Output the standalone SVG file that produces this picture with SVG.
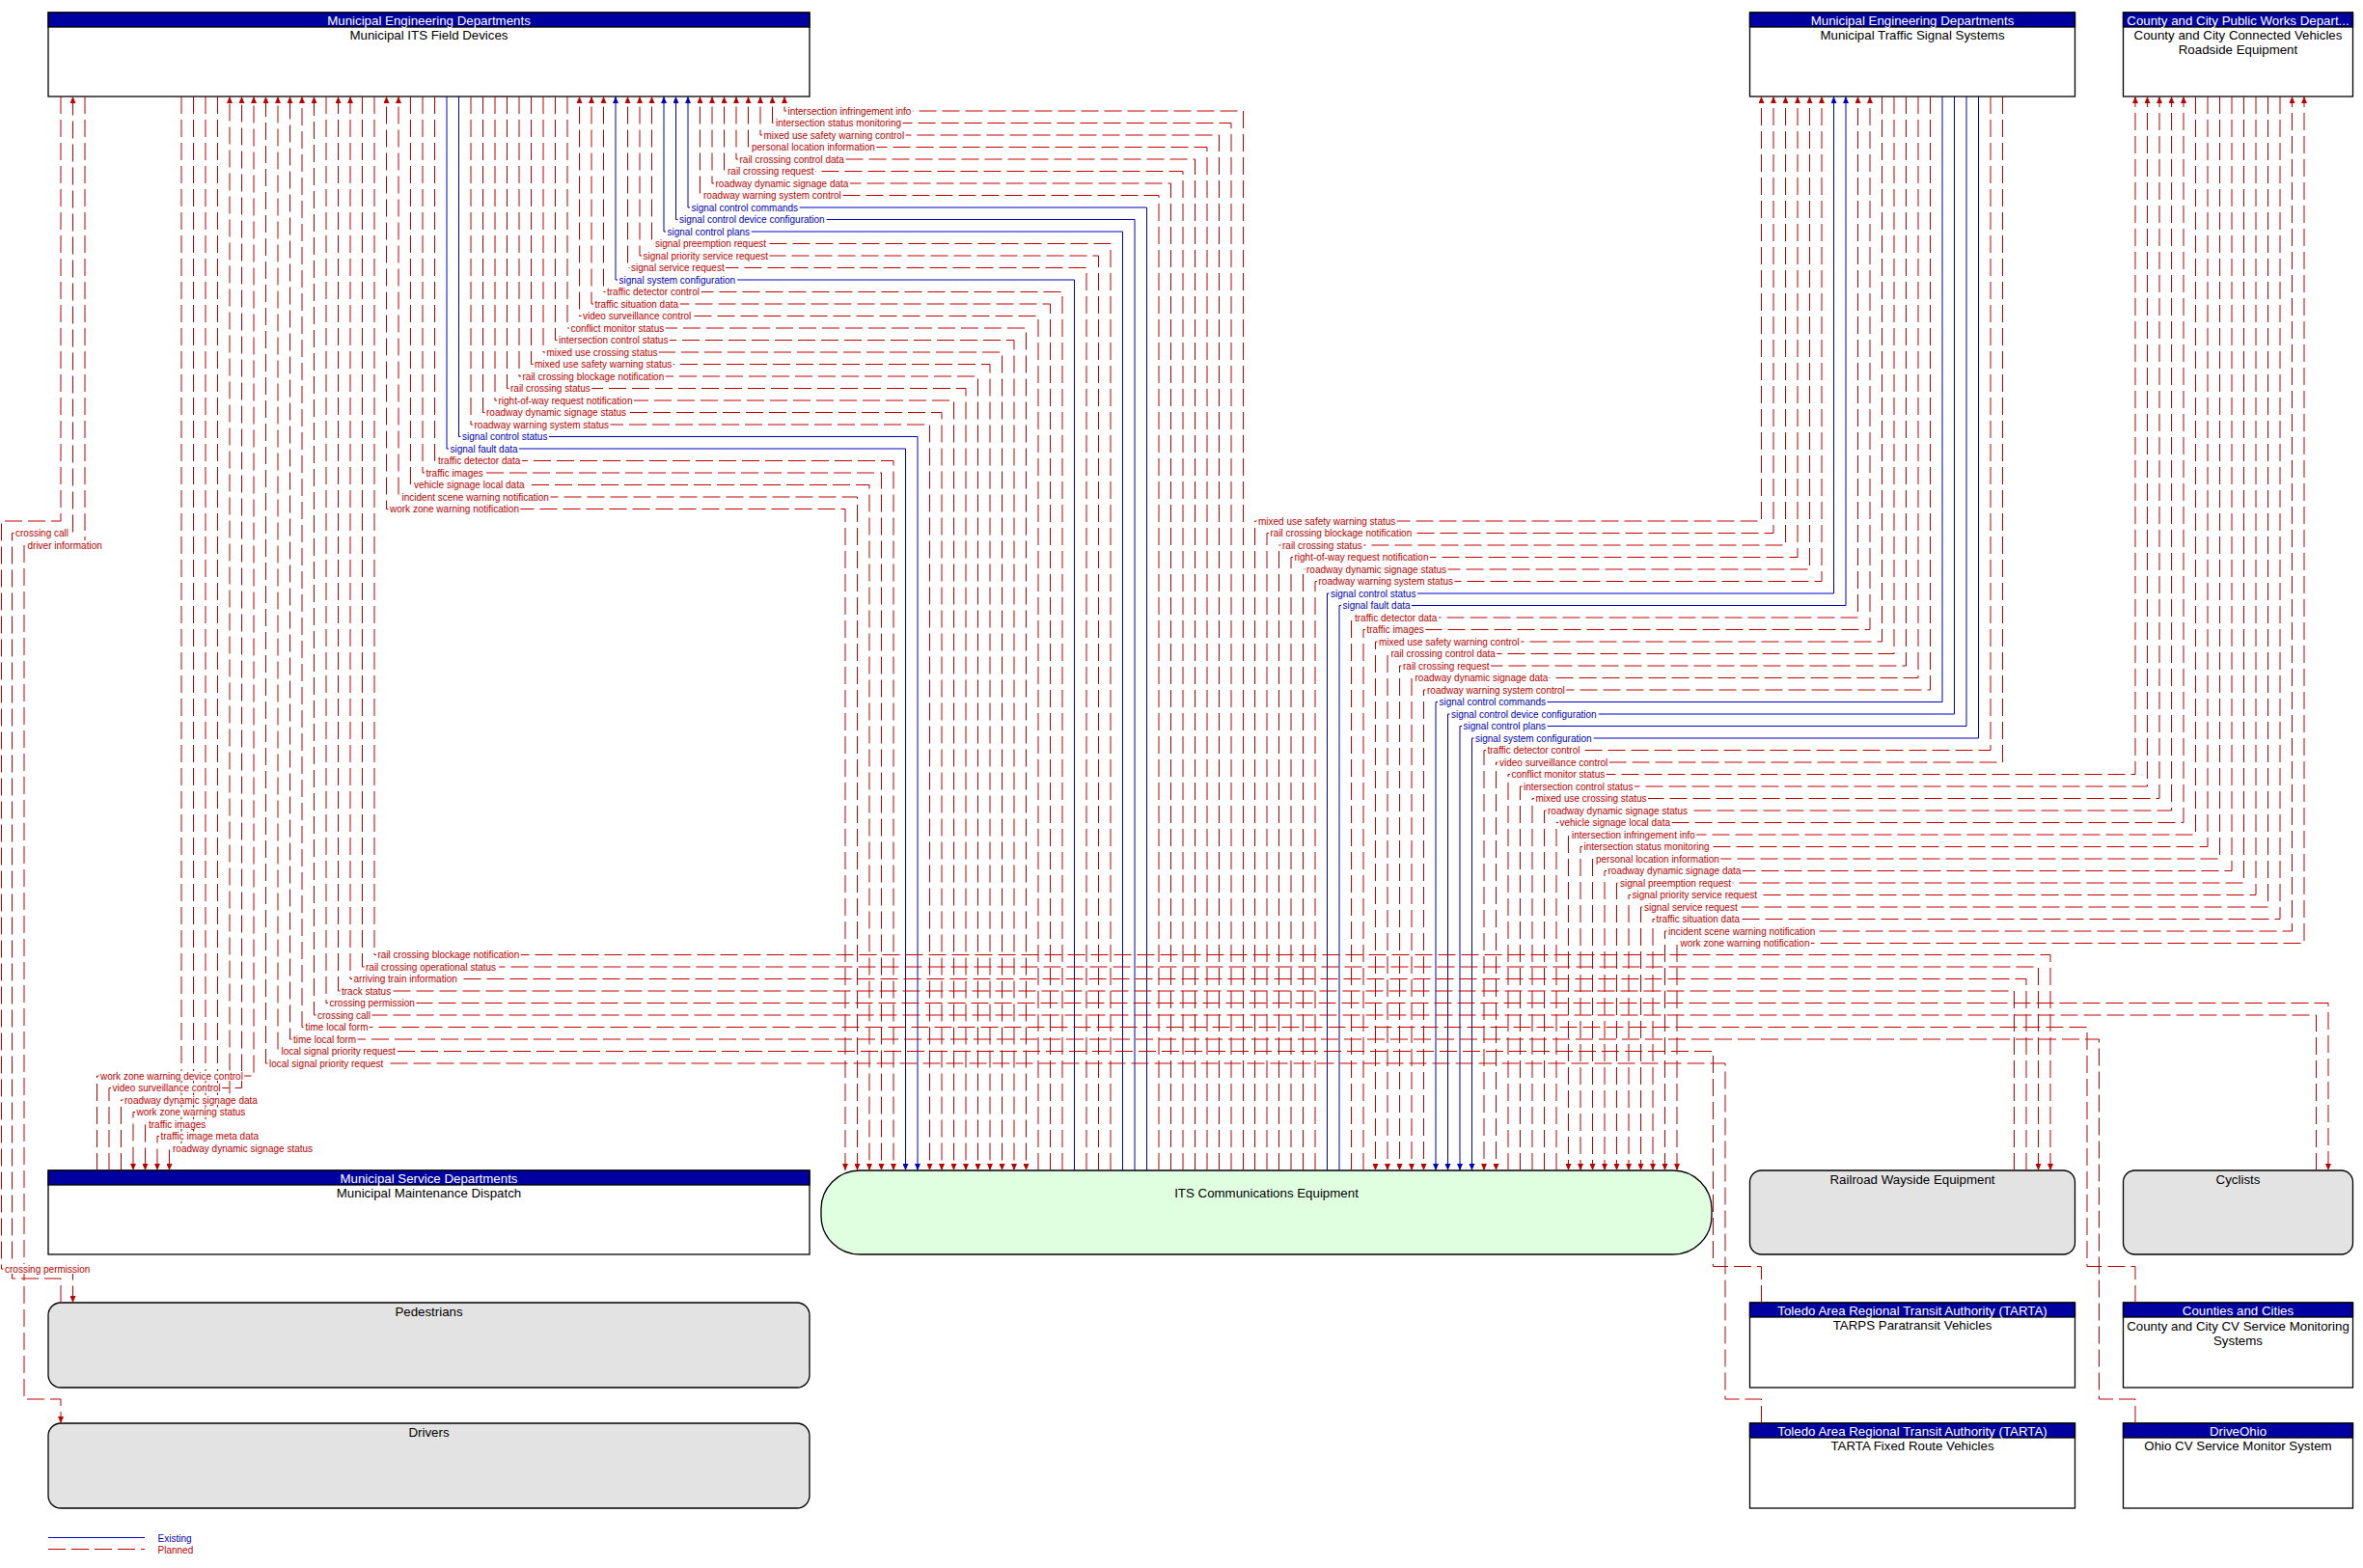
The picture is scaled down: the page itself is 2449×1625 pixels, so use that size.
<svg xmlns="http://www.w3.org/2000/svg" width="2449" height="1625" viewBox="0 0 2449 1625">
<style>
.bx{fill:#fff;stroke:#000;stroke-width:1.3}
.hd{fill:#0000A0;stroke:#000;stroke-width:1.3}
.ex{fill:#E3E3E3;stroke:#000;stroke-width:1.3}
.its{fill:#E0FFE0;stroke:#000;stroke-width:1.3}
.ht{font-family:'Liberation Sans',Arial,sans-serif;font-size:13.3px;fill:#fff;text-anchor:middle}
.nt{font-family:'Liberation Sans',Arial,sans-serif;font-size:13.3px;fill:#000;text-anchor:middle}
.p{fill:none;stroke:#C00000;stroke-width:1;stroke-dasharray:18 6;marker-end:url(#ar)}
.e{fill:none;stroke:#0000C0;stroke-width:1;marker-end:url(#ab)}
.bi{marker-start:url(#ar)}
.lr{font-family:'Liberation Sans',Arial,sans-serif;font-size:10px;fill:#C00000}
.lb{font-family:'Liberation Sans',Arial,sans-serif;font-size:10px;fill:#0000C0}
.bg{fill:#fff}
</style>
<defs>
<marker id="ar" viewBox="0 0 10 10" refX="10" refY="5" markerWidth="7" markerHeight="6" markerUnits="userSpaceOnUse" orient="auto-start-reverse" preserveAspectRatio="none"><path d="M0,0L10,5L0,10z" fill="#C00000"/></marker>
<marker id="ab" viewBox="0 0 10 10" refX="10" refY="5" markerWidth="7" markerHeight="6" markerUnits="userSpaceOnUse" orient="auto-start-reverse" preserveAspectRatio="none"><path d="M0,0L10,5L0,10z" fill="#0000C0"/></marker>
</defs>
<rect width="2449" height="1625" fill="#fff"/>

<g id="node-its-field-devices">
<rect class="bx" x="50" y="13" width="789" height="87"/>
<rect class="hd" x="50" y="13" width="789" height="15"/>
<text class="ht" x="444.5" y="25.8">Municipal Engineering Departments</text>
<text class="nt" x="444.5" y="41">Municipal ITS Field Devices</text>
</g>
<g id="node-traffic-signal-systems">
<rect class="bx" x="1813.5" y="13" width="337" height="87"/>
<rect class="hd" x="1813.5" y="13" width="337" height="15"/>
<text class="ht" x="1982" y="25.8">Municipal Engineering Departments</text>
<text class="nt" x="1982" y="41">Municipal Traffic Signal Systems</text>
</g>
<g id="node-cv-roadside">
<rect class="bx" x="2200.5" y="13" width="238" height="87"/>
<rect class="hd" x="2200.5" y="13" width="238" height="15"/>
<text class="ht" x="2319.5" y="25.8">County and City Public Works Depart...</text>
<text class="nt" x="2319.5" y="41">County and City Connected Vehicles</text>
<text class="nt" x="2319.5" y="56">Roadside Equipment</text>
</g>
<g id="node-maintenance-dispatch">
<rect class="bx" x="50" y="1213" width="789" height="87"/>
<rect class="hd" x="50" y="1213" width="789" height="15"/>
<text class="ht" x="444.5" y="1225.8">Municipal Service Departments</text>
<text class="nt" x="444.5" y="1241">Municipal Maintenance Dispatch</text>
</g>
<g id="node-pedestrians">
<rect class="ex" x="50" y="1350" width="789" height="88" rx="13" ry="13"/>
<text class="nt" x="444.5" y="1363.5">Pedestrians</text>
</g>
<g id="node-drivers">
<rect class="ex" x="50" y="1475" width="789" height="88" rx="13" ry="13"/>
<text class="nt" x="444.5" y="1488.5">Drivers</text>
</g>
<g id="node-its-comm">
<rect class="its" x="851" y="1213" width="923" height="87" rx="40" ry="40"/>
<text class="nt" x="1312.5" y="1240.5">ITS Communications Equipment</text>
</g>
<g id="node-railroad">
<rect class="ex" x="1813.5" y="1213" width="337" height="87" rx="12" ry="12"/>
<text class="nt" x="1982" y="1226.5">Railroad Wayside Equipment</text>
</g>
<g id="node-cyclists">
<rect class="ex" x="2200.5" y="1213" width="238" height="87" rx="12" ry="12"/>
<text class="nt" x="2319.5" y="1226.5">Cyclists</text>
</g>
<g id="node-tarps">
<rect class="bx" x="1813.5" y="1350" width="337" height="88"/>
<rect class="hd" x="1813.5" y="1350" width="337" height="15"/>
<text class="ht" x="1982" y="1362.8">Toledo Area Regional Transit Authority (TARTA)</text>
<text class="nt" x="1982" y="1378">TARPS Paratransit Vehicles</text>
</g>
<g id="node-cv-monitoring">
<rect class="bx" x="2200.5" y="1350" width="238" height="88"/>
<rect class="hd" x="2200.5" y="1350" width="238" height="15"/>
<text class="ht" x="2319.5" y="1362.8">Counties and Cities</text>
<text class="nt" x="2319.5" y="1378.5">County and City CV Service Monitoring</text>
<text class="nt" x="2319.5" y="1393.5">Systems</text>
</g>
<g id="node-tarta-fixed">
<rect class="bx" x="1813.5" y="1475" width="337" height="88"/>
<rect class="hd" x="1813.5" y="1475" width="337" height="15"/>
<text class="ht" x="1982" y="1487.8">Toledo Area Regional Transit Authority (TARTA)</text>
<text class="nt" x="1982" y="1503">TARTA Fixed Route Vehicles</text>
</g>
<g id="node-ohio-cv">
<rect class="bx" x="2200.5" y="1475" width="238" height="88"/>
<rect class="hd" x="2200.5" y="1475" width="238" height="15"/>
<text class="ht" x="2319.5" y="1487.8">DriveOhio</text>
<text class="nt" x="2319.5" y="1503">Ohio CV Service Monitor System</text>
</g>

<g id="connectors">
<path class="p" d="M1288.5,1213V115H813V100"/>
<path class="p" d="M1276,1213V127.5H800.5V100"/>
<path class="p" d="M1263.5,1213V140H788V100"/>
<path class="p" d="M1251,1213V152.5H775.5V100"/>
<path class="p" d="M1238.5,1213V165H763V100"/>
<path class="p" d="M1226,1213V177.5H750.5V100"/>
<path class="p" d="M1213.5,1213V190H738V100"/>
<path class="p" d="M1201,1213V202.5H725.5V100"/>
<path class="e" d="M1188.5,1213V215H713V100"/>
<path class="e" d="M1176,1213V227.5H700.5V100"/>
<path class="e" d="M1163.5,1213V240H688V100"/>
<path class="p" d="M1151,1213V252.5H675.5V100"/>
<path class="p" d="M1138.5,1213V265H663V100"/>
<path class="p" d="M1126,1213V277.5H650.5V100"/>
<path class="e" d="M1113.5,1213V290H638V100"/>
<path class="p" d="M1101,1213V302.5H625.5V100"/>
<path class="p" d="M1088.5,1213V315H613V100"/>
<path class="p" d="M1076,1213V327.5H600.5V100"/>
<path class="p" d="M588,100V340H1063.5V1213"/>
<path class="p" d="M575.5,100V352.5H1051V1213"/>
<path class="p" d="M563,100V365H1038.5V1213"/>
<path class="p" d="M550.5,100V377.5H1026V1213"/>
<path class="p" d="M538,100V390H1013.5V1213"/>
<path class="p" d="M525.5,100V402.5H1001V1213"/>
<path class="p" d="M513,100V415H988.5V1213"/>
<path class="p" d="M500.5,100V427.5H976V1213"/>
<path class="p" d="M488,100V440H963.5V1213"/>
<path class="e" d="M475.5,100V452.5H951V1213"/>
<path class="e" d="M463,100V465H938.5V1213"/>
<path class="p" d="M450.5,100V477.5H926V1213"/>
<path class="p" d="M438,100V490H913.5V1213"/>
<path class="p" d="M425.5,100V502.5H901V1213"/>
<path class="p bi" d="M888.5,1213V515H413V100"/>
<path class="p bi" d="M876,1213V527.5H400.5V100"/>

<path class="p" d="M1300.5,1213V540H1825.5V100"/>
<path class="p" d="M1313,1213V552.5H1838V100"/>
<path class="p" d="M1325.5,1213V565H1850.5V100"/>
<path class="p" d="M1338,1213V577.5H1863V100"/>
<path class="p" d="M1350.5,1213V590H1875.5V100"/>
<path class="p" d="M1363,1213V602.5H1888V100"/>
<path class="e" d="M1375.5,1213V615H1900.5V100"/>
<path class="e" d="M1388,1213V627.5H1913V100"/>
<path class="p" d="M1400.5,1213V640H1925.5V100"/>
<path class="p" d="M1413,1213V652.5H1938V100"/>
<path class="p" d="M1950.5,100V665H1425.5V1213"/>
<path class="p" d="M1963,100V677.5H1438V1213"/>
<path class="p" d="M1975.5,100V690H1450.5V1213"/>
<path class="p" d="M1988,100V702.5H1463V1213"/>
<path class="p" d="M2000.5,100V715H1475.5V1213"/>
<path class="e" d="M2013,100V727.5H1488V1213"/>
<path class="e" d="M2025.5,100V740H1500.5V1213"/>
<path class="e" d="M2038,100V752.5H1513V1213"/>
<path class="e" d="M2050.5,100V765H1525.5V1213"/>
<path class="p" d="M2063,100V777.5H1538V1213"/>
<path class="p" d="M2075.5,100V790H1550.5V1213"/>

<path class="p" d="M1563,1213V802.5H2213V100"/>
<path class="p" d="M1575.5,1213V815H2225.5V100"/>
<path class="p" d="M1588,1213V827.5H2238V100"/>
<path class="p" d="M1600.5,1213V840H2250.5V100"/>
<path class="p" d="M1613,1213V852.5H2263V100"/>
<path class="p" d="M2275.5,100V865H1625.5V1213"/>
<path class="p" d="M2288,100V877.5H1638V1213"/>
<path class="p" d="M2300.5,100V890H1650.5V1213"/>
<path class="p" d="M2313,100V902.5H1663V1213"/>
<path class="p" d="M2325.5,100V915H1675.5V1213"/>
<path class="p" d="M2338,100V927.5H1688V1213"/>
<path class="p" d="M2350.5,100V940H1700.5V1213"/>
<path class="p" d="M2363,100V952.5H1713V1213"/>
<path class="p bi" d="M1725.5,1213V965H2375.5V100"/>
<path class="p bi" d="M1738,1213V977.5H2388V100"/>

<path class="p" d="M388,100V989.5H2125V1213"/>
<path class="p" d="M375.5,100V1002H2112.5V1213"/>
<path class="p" d="M2100,1213V1014.5H363V100"/>
<path class="p" d="M2087.5,1213V1027H350.5V100"/>
<path class="p" d="M338,100V1039.5H2413V1213"/>
<path class="p" d="M2400.5,1213V1052H325.5V100"/>
<path class="p" d="M2213,1350V1312.5H2163V1064.5H313V100"/>
<path class="p" d="M2213,1475V1450H2175.5V1077H300.5V100"/>
<path class="p" d="M1825.5,1350V1312.5H1775.5V1089.5H288V100"/>
<path class="p" d="M1825.5,1475V1450H1788V1102H275.5V100"/>

<path class="p" d="M100.5,1213V1115H263V100"/>
<path class="p" d="M113,1213V1127.5H250.5V100"/>
<path class="p" d="M125.5,1213V1140H238V100"/>
<path class="p" d="M225.5,100V1152.5H138V1213"/>
<path class="p" d="M213,100V1165H150.5V1213"/>
<path class="p" d="M200.5,100V1177.5H163V1213"/>
<path class="p" d="M188,100V1190H175.5V1213"/>

<path class="p" d="M63,1350V1325H12.5V552.5H75.5V100"/>
<path class="p" d="M88,100V565H25V1450H63V1475"/>
<path class="p" d="M63,100V540H1.5V1315H75.5V1350"/>

<g id="labels">
<rect class="bg" x="815" y="110" width="130.8" height="10"/><text class="lr" x="816.5" y="118.5">intersection infringement info</text>
<rect class="bg" x="802.5" y="122.5" width="133.1" height="10"/><text class="lr" x="804" y="131">intersection status monitoring</text>
<rect class="bg" x="790" y="135" width="148.6" height="10"/><text class="lr" x="791.5" y="143.5">mixed use safety warning control</text>
<rect class="bg" x="777.5" y="147.5" width="130.8" height="10"/><text class="lr" x="779" y="156">personal location information</text>
<rect class="bg" x="765" y="160" width="111.4" height="10"/><text class="lr" x="766.5" y="168.5">rail crossing control data</text>
<rect class="bg" x="752.5" y="172.5" width="92.5" height="10"/><text class="lr" x="754" y="181">rail crossing request</text>
<rect class="bg" x="740" y="185" width="140.8" height="10"/><text class="lr" x="741.5" y="193.5">roadway dynamic signage data</text>
<rect class="bg" x="727.5" y="197.5" width="145.8" height="10"/><text class="lr" x="729" y="206">roadway warning system control</text>
<rect class="bg" x="715" y="210" width="113.6" height="10"/><text class="lb" x="716.5" y="218.5">signal control commands</text>
<rect class="bg" x="702.5" y="222.5" width="154.2" height="10"/><text class="lb" x="704" y="231">signal control device configuration</text>
<rect class="bg" x="690" y="235" width="88.6" height="10"/><text class="lb" x="691.5" y="243.5">signal control plans</text>
<rect class="bg" x="677.5" y="247.5" width="118.1" height="10"/><text class="lr" x="679" y="256">signal preemption request</text>
<rect class="bg" x="665" y="260" width="132.5" height="10"/><text class="lr" x="666.5" y="268.5">signal priority service request</text>
<rect class="bg" x="652.5" y="272.5" width="99.7" height="10"/><text class="lr" x="654" y="281">signal service request</text>
<rect class="bg" x="640" y="285" width="124.2" height="10"/><text class="lb" x="641.5" y="293.5">signal system configuration</text>
<rect class="bg" x="627.5" y="297.5" width="99.2" height="10"/><text class="lr" x="629" y="306">traffic detector control</text>
<rect class="bg" x="615" y="310" width="89.7" height="10"/><text class="lr" x="616.5" y="318.5">traffic situation data</text>
<rect class="bg" x="602.5" y="322.5" width="115.3" height="10"/><text class="lr" x="604" y="331">video surveillance control</text>
<rect class="bg" x="590" y="335" width="99.7" height="10"/><text class="lr" x="591.5" y="343.5">conflict monitor status</text>
<rect class="bg" x="577.5" y="347.5" width="116.4" height="10"/><text class="lr" x="579" y="356">intersection control status</text>
<rect class="bg" x="565" y="360" width="118" height="10"/><text class="lr" x="566.5" y="368.5">mixed use crossing status</text>
<rect class="bg" x="552.5" y="372.5" width="145.3" height="10"/><text class="lr" x="554" y="381">mixed use safety warning status</text>
<rect class="bg" x="540" y="385" width="149.7" height="10"/><text class="lr" x="541.5" y="393.5">rail crossing blockage notification</text>
<rect class="bg" x="527.5" y="397.5" width="85.8" height="10"/><text class="lr" x="529" y="406">rail crossing status</text>
<rect class="bg" x="515" y="410" width="141.9" height="10"/><text class="lr" x="516.5" y="418.5">right-of-way request notification</text>
<rect class="bg" x="502.5" y="422.5" width="148.1" height="10"/><text class="lr" x="504" y="431">roadway dynamic signage status</text>
<rect class="bg" x="490" y="435" width="142.5" height="10"/><text class="lr" x="491.5" y="443.5">roadway warning system status</text>
<rect class="bg" x="477.5" y="447.5" width="91.4" height="10"/><text class="lb" x="479" y="456">signal control status</text>
<rect class="bg" x="465" y="460" width="73" height="10"/><text class="lb" x="466.5" y="468.5">signal fault data</text>
<rect class="bg" x="452.5" y="472.5" width="88.6" height="10"/><text class="lr" x="454" y="481">traffic detector data</text>
<rect class="bg" x="440" y="485" width="62.5" height="10"/><text class="lr" x="441.5" y="493.5">traffic images</text>
<rect class="bg" x="427.5" y="497.5" width="117.5" height="10"/><text class="lr" x="429" y="506">vehicle signage local data</text>
<rect class="bg" x="415" y="510" width="155.3" height="10"/><text class="lr" x="416.5" y="518.5">incident scene warning notification</text>
<rect class="bg" x="402.5" y="522.5" width="136.9" height="10"/><text class="lr" x="404" y="531">work zone warning notification</text>

<rect class="bg" x="1302.5" y="535" width="145.3" height="10"/><text class="lr" x="1304" y="543.5">mixed use safety warning status</text>
<rect class="bg" x="1315" y="547.5" width="149.7" height="10"/><text class="lr" x="1316.5" y="556">rail crossing blockage notification</text>
<rect class="bg" x="1327.5" y="560" width="85.8" height="10"/><text class="lr" x="1329" y="568.5">rail crossing status</text>
<rect class="bg" x="1340" y="572.5" width="141.9" height="10"/><text class="lr" x="1341.5" y="581">right-of-way request notification</text>
<rect class="bg" x="1352.5" y="585" width="148.1" height="10"/><text class="lr" x="1354" y="593.5">roadway dynamic signage status</text>
<rect class="bg" x="1365" y="597.5" width="142.5" height="10"/><text class="lr" x="1366.5" y="606">roadway warning system status</text>
<rect class="bg" x="1377.5" y="610" width="91.4" height="10"/><text class="lb" x="1379" y="618.5">signal control status</text>
<rect class="bg" x="1390" y="622.5" width="73" height="10"/><text class="lb" x="1391.5" y="631">signal fault data</text>
<rect class="bg" x="1402.5" y="635" width="88.6" height="10"/><text class="lr" x="1404" y="643.5">traffic detector data</text>
<rect class="bg" x="1415" y="647.5" width="62.5" height="10"/><text class="lr" x="1416.5" y="656">traffic images</text>
<rect class="bg" x="1427.5" y="660" width="148.6" height="10"/><text class="lr" x="1429" y="668.5">mixed use safety warning control</text>
<rect class="bg" x="1440" y="672.5" width="111.4" height="10"/><text class="lr" x="1441.5" y="681">rail crossing control data</text>
<rect class="bg" x="1452.5" y="685" width="92.5" height="10"/><text class="lr" x="1454" y="693.5">rail crossing request</text>
<rect class="bg" x="1465" y="697.5" width="140.8" height="10"/><text class="lr" x="1466.5" y="706">roadway dynamic signage data</text>
<rect class="bg" x="1477.5" y="710" width="145.8" height="10"/><text class="lr" x="1479" y="718.5">roadway warning system control</text>
<rect class="bg" x="1490" y="722.5" width="113.6" height="10"/><text class="lb" x="1491.5" y="731">signal control commands</text>
<rect class="bg" x="1502.5" y="735" width="154.2" height="10"/><text class="lb" x="1504" y="743.5">signal control device configuration</text>
<rect class="bg" x="1515" y="747.5" width="88.6" height="10"/><text class="lb" x="1516.5" y="756">signal control plans</text>
<rect class="bg" x="1527.5" y="760" width="124.2" height="10"/><text class="lb" x="1529" y="768.5">signal system configuration</text>
<rect class="bg" x="1540" y="772.5" width="99.2" height="10"/><text class="lr" x="1541.5" y="781">traffic detector control</text>
<rect class="bg" x="1552.5" y="785" width="115.3" height="10"/><text class="lr" x="1554" y="793.5">video surveillance control</text>

<rect class="bg" x="1565" y="797.5" width="99.7" height="10"/><text class="lr" x="1566.5" y="806">conflict monitor status</text>
<rect class="bg" x="1577.5" y="810" width="116.4" height="10"/><text class="lr" x="1579" y="818.5">intersection control status</text>
<rect class="bg" x="1590" y="822.5" width="118" height="10"/><text class="lr" x="1591.5" y="831">mixed use crossing status</text>
<rect class="bg" x="1602.5" y="835" width="148.1" height="10"/><text class="lr" x="1604" y="843.5">roadway dynamic signage status</text>
<rect class="bg" x="1615" y="847.5" width="117.5" height="10"/><text class="lr" x="1616.5" y="856">vehicle signage local data</text>
<rect class="bg" x="1627.5" y="860" width="130.8" height="10"/><text class="lr" x="1629" y="868.5">intersection infringement info</text>
<rect class="bg" x="1640" y="872.5" width="133.1" height="10"/><text class="lr" x="1641.5" y="881">intersection status monitoring</text>
<rect class="bg" x="1652.5" y="885" width="130.8" height="10"/><text class="lr" x="1654" y="893.5">personal location information</text>
<rect class="bg" x="1665" y="897.5" width="140.8" height="10"/><text class="lr" x="1666.5" y="906">roadway dynamic signage data</text>
<rect class="bg" x="1677.5" y="910" width="118.1" height="10"/><text class="lr" x="1679" y="918.5">signal preemption request</text>
<rect class="bg" x="1690" y="922.5" width="132.5" height="10"/><text class="lr" x="1691.5" y="931">signal priority service request</text>
<rect class="bg" x="1702.5" y="935" width="99.7" height="10"/><text class="lr" x="1704" y="943.5">signal service request</text>
<rect class="bg" x="1715" y="947.5" width="89.7" height="10"/><text class="lr" x="1716.5" y="956">traffic situation data</text>
<rect class="bg" x="1727.5" y="960" width="155.3" height="10"/><text class="lr" x="1729" y="968.5">incident scene warning notification</text>
<rect class="bg" x="1740" y="972.5" width="136.9" height="10"/><text class="lr" x="1741.5" y="981">work zone warning notification</text>

<rect class="bg" x="390" y="984.5" width="149.7" height="10"/><text class="lr" x="391.5" y="993">rail crossing blockage notification</text>
<rect class="bg" x="377.5" y="997" width="139.7" height="10"/><text class="lr" x="379" y="1005.5">rail crossing operational status</text>
<rect class="bg" x="365" y="1009.5" width="110.3" height="10"/><text class="lr" x="366.5" y="1018">arriving train information</text>
<rect class="bg" x="352.5" y="1022" width="54.1" height="10"/><text class="lr" x="354" y="1030.5">track status</text>
<rect class="bg" x="340" y="1034.5" width="91.4" height="10"/><text class="lr" x="341.5" y="1043">crossing permission</text>
<rect class="bg" x="327.5" y="1047" width="58" height="10"/><text class="lr" x="329" y="1055.5">crossing call</text>
<rect class="bg" x="315" y="1059.5" width="68" height="10"/><text class="lr" x="316.5" y="1068">time local form</text>
<rect class="bg" x="302.5" y="1072" width="68" height="10"/><text class="lr" x="304" y="1080.5">time local form</text>
<rect class="bg" x="290" y="1084.5" width="121.4" height="10"/><text class="lr" x="291.5" y="1093">local signal priority request</text>
<rect class="bg" x="277.5" y="1097" width="121.4" height="10"/><text class="lr" x="279" y="1105.5">local signal priority request</text>

<rect class="bg" x="102.5" y="1110" width="150.8" height="10"/><text class="lr" x="104" y="1118.5">work zone warning device control</text>
<rect class="bg" x="115" y="1122.5" width="115.3" height="10"/><text class="lr" x="116.5" y="1131">video surveillance control</text>
<rect class="bg" x="127.5" y="1135" width="140.8" height="10"/><text class="lr" x="129" y="1143.5">roadway dynamic signage data</text>
<rect class="bg" x="140" y="1147.5" width="115.8" height="10"/><text class="lr" x="141.5" y="1156">work zone warning status</text>
<rect class="bg" x="152.5" y="1160" width="62.5" height="10"/><text class="lr" x="154" y="1168.5">traffic images</text>
<rect class="bg" x="165" y="1172.5" width="104.7" height="10"/><text class="lr" x="166.5" y="1181">traffic image meta data</text>
<rect class="bg" x="177.5" y="1185" width="148.1" height="10"/><text class="lr" x="179" y="1193.5">roadway dynamic signage status</text>

<rect class="bg" x="14.5" y="547.5" width="58" height="10"/><text class="lr" x="16" y="556">crossing call</text>
<rect class="bg" x="27" y="560" width="80.2" height="10"/><text class="lr" x="28.5" y="568.5">driver information</text>
<rect class="bg" x="3.5" y="1310" width="91.4" height="10"/><text class="lr" x="5" y="1318.5">crossing permission</text>
</g>
</g>

<g id="legend">
<path d="M50,1593.5H150" fill="none" stroke="#0000C0" stroke-width="1"/>
<text class="lb" x="163.5" y="1598">Existing</text>
<path d="M50,1605.5H150" fill="none" stroke="#C00000" stroke-width="1" stroke-dasharray="18 6"/>
<text class="lr" x="163.5" y="1609.5">Planned</text>
</g>
</svg>
